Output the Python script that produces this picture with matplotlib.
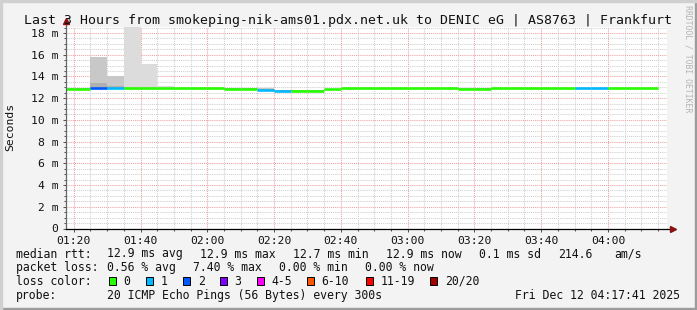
import numpy as np
import matplotlib.pyplot as plt
from matplotlib.ticker import FuncFormatter, MultipleLocator
from matplotlib.patches import Rectangle

# --- Daten (5-Minuten-Schritte, Zeitpunkt = Ende des Intervalls) ---
step_end = ["01:20", "01:25", "01:30", "01:35", "01:40", "01:45", "01:50", "01:55",
            "02:00", "02:05", "02:10", "02:15", "02:20", "02:25", "02:30", "02:35",
            "02:40", "02:45", "02:50", "02:55", "03:00", "03:05", "03:10", "03:15",
            "03:20", "03:25", "03:30", "03:35", "03:40", "03:45", "03:50", "03:55",
            "04:00", "04:05", "04:10", "04:15"]
median_ms = [12.88, 12.88, 12.93, 12.93, 12.92, 12.92, 12.92, 12.92,
             12.92, 12.92, 12.85, 12.85, 12.77, 12.68, 12.68, 12.68,
             12.81, 12.94, 12.94, 12.94, 12.94, 12.94, 12.94, 12.94,
             12.87, 12.87, 12.94, 12.94, 12.94, 12.94, 12.94, 12.94,
             12.94, 12.94, 12.94, 12.94]
lost_pings = [0, 0, 2, 1, 0, 0, 0, 0,
              0, 0, 0, 0, 1, 1, 0, 0,
              0, 0, 0, 0, 0, 0, 0, 0,
              0, 0, 0, 0, 0, 0, 0, 1,
              1, 0, 0, 0]
# Rauch: Minimum, Maximum, oberes Quartil, innerer Kern
smoke_lo = [12.84, 12.84, 12.88, 12.88, 12.86, 12.86, 12.86, 12.80,
            12.80, 12.80, 12.78, 12.80, 12.72, 12.64, 12.62, 12.62,
            12.74, 12.86, 12.84, 12.86, 12.86, 12.86, 12.86, 12.84,
            12.84, 12.84, 12.84, 12.86, 12.84, 12.86, 12.86, 12.88,
            12.88, 12.84, 12.86, 12.86]
smoke_hi = [12.96, 12.96, 15.82, 14.04, 19.50, 15.12, 13.12, 12.98,
            12.98, 12.98, 12.92, 12.92, 12.98, 12.74, 12.74, 12.74,
            12.86, 12.98, 12.98, 12.98, 12.98, 12.98, 12.98, 12.98,
            12.92, 12.92, 12.98, 12.98, 12.98, 12.98, 12.98, 12.98,
            12.98, 12.98, 12.98, 12.98]
smoke_q3 = [12.95, 12.95, 15.82, 14.04, 13.02, 13.00, 12.98, 12.96,
            12.96, 12.96, 12.91, 12.91, 12.90, 12.73, 12.73, 12.73,
            12.85, 12.97, 12.97, 12.97, 12.97, 12.97, 12.97, 12.97,
            12.91, 12.91, 12.97, 12.97, 12.97, 12.97, 12.97, 12.97,
            12.97, 12.97, 12.97, 12.97]
smoke_core = [12.94, 12.94, 13.42, 13.10, 12.98, 12.97, 12.96, 12.95,
              12.95, 12.95, 12.90, 12.90, 12.80, 12.72, 12.72, 12.72,
              12.84, 12.96, 12.96, 12.96, 12.96, 12.96, 12.96, 12.96,
              12.90, 12.90, 12.96, 12.96, 12.96, 12.96, 12.96, 12.96,
              12.96, 12.96, 12.96, 12.96]

loss_labels = ["0", "1", "2", "3", "4-5", "6-10", "11-19", "20/20"]
loss_colors = ["#26ff00", "#00b8ff", "#0059ff", "#7e00ff", "#ff00ff", "#ff5500", "#ff0000", "#a00000"]

stats_rtt = ["median rtt:", "12.9 ms avg", "12.9 ms max", "12.7 ms min", "12.9 ms now",
             "0.1 ms sd", "214.6", "am/s"]
stats_loss = ["packet loss:", "0.56 % avg", "7.40 % max", "0.00 % min", "0.00 % now"]

title = "Last 3 Hours from smokeping-nik-ams01.pdx.net.uk to DENIC eG | AS8763 | Frankfurt"
start_t, end_t = "01:17:41", "04:17:41"

W, H = 697, 310
MONO = "DejaVu Sans Mono"
INK = "#111111"


def minutes(s):
    parts = [int(p) for p in s.split(":")]
    while len(parts) < 3:
        parts.append(0)
    return parts[0] * 60 + parts[1] + parts[2] / 60.0


def px(x, y):
    # Pixel -> Figurkoordinaten
    return x / W, 1 - y / H


def loss_color(n):
    if n <= 3:
        return loss_colors[n]
    if n <= 5:
        return loss_colors[4]
    if n <= 10:
        return loss_colors[5]
    if n < 20:
        return loss_colors[6]
    return loss_colors[7]


fig = plt.figure(figsize=(W / 100, H / 100), dpi=100, facecolor="#f3f3f3")

# 3D-Rahmen wie bei rrdtool
fig.patches.append(Rectangle((0, 0), 1, 2 / H, transform=fig.transFigure, color="#9c9c9c"))
fig.patches.append(Rectangle((1 - 2 / W, 0), 2 / W, 1, transform=fig.transFigure, color="#9c9c9c"))
fig.patches.append(Rectangle((0, 1 - 2 / H), 1, 2 / H, transform=fig.transFigure, color="#d0d0d0"))
fig.patches.append(Rectangle((0, 0), 2 / W, 1, transform=fig.transFigure, color="#d0d0d0"))

x0, x1, ytop, ybot = 66, 667, 27, 228.5
ax = fig.add_axes([x0 / W, (H - ybot) / H, (x1 - x0) / W, (ybot - ytop) / H])
ax.set_facecolor("white")

t_end = np.array([minutes(s) for s in step_end])
t_start = t_end - 5
lo = np.array(smoke_lo)

# Rauch (Streuung der Pings), von hell nach dunkel
for top, shade, z in [(smoke_hi, "#dcdcdc", 2), (smoke_q3, "#c8c8c8", 2.1), (smoke_core, "#b0b0b0", 2.2)]:
    ax.bar(t_start, np.array(top) - lo, bottom=lo, width=5, align="edge",
           color=shade, linewidth=0, zorder=z)

# Median, eingefaerbt nach Paketverlust
ax.hlines(median_ms, t_start, t_end, colors=[loss_color(n) for n in lost_pings],
          linewidth=1.9, zorder=4, capstyle="butt")

ax.set_xlim(minutes(start_t), minutes(end_t))
ax.set_ylim(0, 18.55)

# Gitter
ax.xaxis.set_major_locator(MultipleLocator(20))
ax.xaxis.set_minor_locator(MultipleLocator(5))
ax.yaxis.set_major_locator(MultipleLocator(2))
ax.yaxis.set_minor_locator(MultipleLocator(0.5))
ax.grid(which="minor", color="#cfcfcf", linestyle=(0, (1, 1)), linewidth=0.75, zorder=1)
ax.grid(which="major", color="#f0a0a0", linestyle=(0, (1, 1)), linewidth=0.75, zorder=1)
ax.set_axisbelow(True)

ax.xaxis.set_major_formatter(FuncFormatter(lambda v, p: "%02d:%02d" % (int(v) // 60, int(v) % 60)))
ax.yaxis.set_major_formatter(FuncFormatter(lambda v, p: "0" if v == 0 else "%d m" % round(v)))

for lab in ax.get_xticklabels() + ax.get_yticklabels():
    lab.set_family(MONO)
ax.tick_params(which="both", labelsize=8.2, labelcolor=INK, color="#555555", width=0.75)
ax.tick_params(which="major", length=2.5)
ax.tick_params(which="minor", length=1.5)
ax.tick_params(axis="x", pad=3)
ax.tick_params(axis="y", pad=3)

for s in ["top", "right", "left", "bottom"]:
    ax.spines[s].set_visible(False)

# Achsen mit Pfeilen
ax.plot([0, 0], [0, 1.025], transform=ax.transAxes, color="#666666", lw=0.9, clip_on=False, zorder=5)
ax.plot([0, 1.008], [0, 0], transform=ax.transAxes, color="#000000", lw=0.9, clip_on=False, zorder=5)
ax.plot([0], [1.03], transform=ax.transAxes, marker="^", ms=4, color="#8b1010", clip_on=False, zorder=6)
ax.plot([1.01], [0], transform=ax.transAxes, marker=">", ms=4, color="#8b1010", clip_on=False, zorder=6)

fig.text(*px(10, 127), "Seconds", family=MONO, fontsize=8.2, rotation=90,
         ha="center", va="center", color=INK)

# Titel
fig.text(*px(348, 24), title, family=MONO, fontsize=9.5, ha="center", va="baseline", color=INK)

# Wasserzeichen rechts
fig.text(*px(688, 5), "RRDTOOL / TOBI OETIKER", family=MONO, fontsize=5.9, rotation=270,
         ha="center", va="top", color="#b4b4b4")

# Legende / Statistik
rtt_x = [16, 107, 200, 293, 386, 479, 558, 614]
for txt, x in zip(stats_rtt, rtt_x):
    fig.text(*px(x, 257.5), txt, family=MONO, fontsize=8.3, va="baseline", color=INK)

loss_x = [16, 107, 193, 279, 365]
for txt, x in zip(stats_loss, loss_x):
    fig.text(*px(x, 271.3), txt, family=MONO, fontsize=8.3, va="baseline", color=INK)

fig.text(*px(16, 285), "loss color:", family=MONO, fontsize=8.3, va="baseline", color=INK)
box_x = [108.7, 146, 183.3, 220, 256.7, 306.7, 366, 430.3]
for lab, col, bx in zip(loss_labels, loss_colors, box_x):
    fig.patches.append(Rectangle(px(bx, 285), 7 / W, 8 / H, transform=fig.transFigure,
                                 facecolor=col, edgecolor="black", linewidth=0.7))
    fig.text(*px(bx + 14.5, 285), lab, family=MONO, fontsize=8.3, va="baseline", color=INK)

fig.text(*px(16, 299), "probe:", family=MONO, fontsize=8.3, va="baseline", color=INK)
fig.text(*px(107, 299), "20 ICMP Echo Pings (56 Bytes) every 300s", family=MONO, fontsize=8.3,
         va="baseline", color=INK)
fig.text(*px(680, 299), "Fri Dec 12 04:17:41 2025", family=MONO, fontsize=8.3, ha="right",
         va="baseline", color=INK)

fig.savefig("out.png", dpi=100, facecolor=fig.get_facecolor())
